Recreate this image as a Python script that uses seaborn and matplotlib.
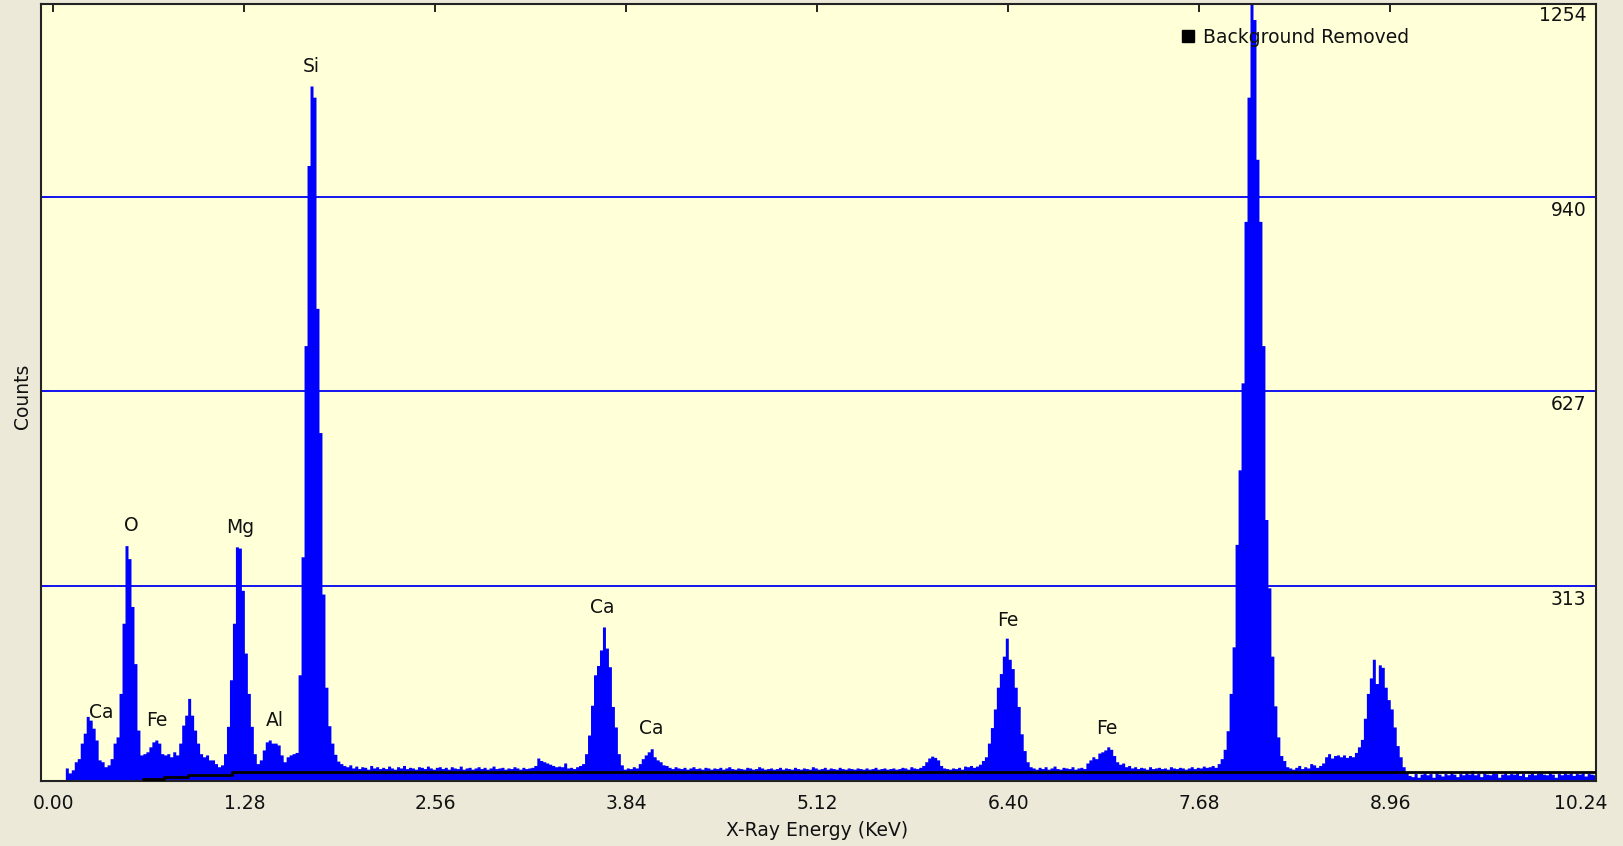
import numpy as np
import pandas as pd
import matplotlib
matplotlib.use("Agg")
import matplotlib.pyplot as plt
from matplotlib.lines import Line2D
import seaborn as sns

# spectrum channels are 0.02 keV wide, starting at 0 keV
CHANNEL_KEV = 0.02

# counts per channel, 0.00 - 2.00 keV
counts_0_2 = [
    0, 0, 0, 0, 20, 12, 17, 30, 35, 60,
    76, 103, 97, 84, 65, 33, 30, 22, 25, 35,
    60, 70, 140, 253, 378, 357, 280, 188, 81, 41,
    43, 46, 54, 62, 65, 60, 43, 41, 43, 38,
    46, 41, 60, 89, 105, 132, 105, 81, 60, 43,
    38, 41, 33, 33, 27, 22, 25, 43, 87, 162,
    253, 376, 374, 306, 205, 140, 87, 43, 27, 33,
    49, 62, 65, 60, 60, 57, 41, 30, 38, 41,
    43, 45, 170, 360, 700, 990, 1118, 1100, 760, 560,
    300, 150, 88, 60, 42, 31, 27, 24, 22, 25,
]

# counts per channel, 2.00 - 6.00 keV
counts_2_6 = [
    20, 23, 19, 22, 21, 18, 24, 20, 22, 19,
    21, 19, 23, 20, 18, 22, 20, 24, 19, 21,
    20, 18, 22, 21, 19, 23, 20, 18, 21, 22,
    19, 21, 18, 22, 20, 19, 23, 18, 20, 21,
    18, 20, 22, 19, 21, 18, 20, 23, 19, 20,
    21, 18, 20, 19, 22, 20, 18, 21, 19, 20,
    21, 24, 36, 32, 30, 28, 26, 24, 22, 23,
    22, 28, 20, 21, 19, 22, 24, 27, 43, 73,
    121, 170, 185, 210, 247, 213, 183, 119, 86, 43,
    25, 18, 20, 19, 22, 20, 27, 35, 41, 46,
    51, 38, 33, 30, 25, 24, 21, 19, 22, 20,
    19, 21, 18, 20, 22, 19, 20, 18, 21, 20,
    18, 20, 19, 21, 18, 20, 22, 19, 18, 20,
    19, 18, 21, 20, 18, 19, 22, 20, 18, 19,
    20, 18, 19, 21, 18, 20, 19, 18, 21, 19,
    18, 20, 19, 18, 22, 20, 18, 19, 21, 18,
    20, 19, 18, 21, 19, 18, 20, 19, 18, 20,
    19, 18, 20, 18, 19, 21, 18, 19, 20, 18,
    19, 20, 18, 19, 21, 20, 18, 22, 20, 19,
    21, 24, 30, 36, 39, 37, 33, 24, 20, 19,
]

# counts per channel, 6.00 - 10.34 keV
counts_6_10 = [
    18, 20, 19, 21, 18, 23, 22, 24, 21, 23,
    26, 32, 38, 60, 85, 115, 150, 172, 200, 229,
    195, 180, 150, 119, 75, 48, 30, 22, 20, 18,
    21, 19, 22, 18, 20, 23, 19, 18, 21, 20,
    19, 22, 18, 20, 21, 19, 28, 33, 38, 35,
    44, 46, 49, 54, 50, 40, 30, 26, 28, 22,
    24, 20, 22, 19, 21, 20, 18, 22, 19, 20,
    21, 19, 20, 18, 22, 20, 19, 21, 20, 18,
    20, 22, 19, 21, 20, 23, 21, 22, 24, 21,
    27, 35, 50, 80, 140, 215, 380, 500, 640, 900,
    1100, 1254, 1225, 1000, 900, 700, 420, 310, 200, 120,
    70, 40, 32, 22, 20, 18, 21, 24, 19, 22,
    20, 27, 25, 21, 24, 28, 38, 43, 36, 40,
    41, 38, 41, 37, 40, 38, 45, 54, 66, 100,
    140, 165, 195, 156, 186, 182, 150, 130, 115, 86,
    56, 38, 22, 14, 8, 6, 11, 5, 10, 12,
    9, 11, 5, 12, 10, 7, 11, 9, 12, 10,
    6, 11, 9, 12, 10, 16, 9, 11, 6, 12,
    10, 9, 12, 11, 5, 10, 12, 9, 11, 10,
    12, 8, 11, 6, 10, 12, 9, 11, 12, 10,
    9, 12, 10, 5, 11, 9, 12, 10, 12, 8,
    11, 10, 12, 7, 11, 10, 9,
]

# fitted background (black line)
background_kev = [0.60, 0.74, 0.90, 1.20, 10.34]
background_counts = [2, 5, 9, 13, 13]

# element labels
peak_names = ["Ca", "O", "Fe", "Mg", "Al", "Si", "Ca", "Ca", "Fe", "Fe"]
peak_kev = [0.324, 0.521, 0.693, 1.251, 1.486, 1.725, 3.68, 4.006, 6.397, 7.06]
peak_label_counts = [110, 411, 97, 407, 97, 1149, 278, 84, 258, 84]

energy_ticks = [0.00, 1.28, 2.56, 3.84, 5.12, 6.40, 7.68, 8.96, 10.24]
count_ticks = [313, 627, 940, 1254]

FS = 13.5
TEXT = "#111111"

counts = counts_0_2 + counts_2_6 + counts_6_10
n_chan = len(counts)
spectrum = pd.DataFrame({
    "kev": (np.arange(n_chan) + 0.5) * CHANNEL_KEV,
    "counts": counts,
})

sns.set_style("white")
plt.rcParams["font.family"] = ["DejaVu Sans"]

fig = plt.figure(figsize=(16.23, 8.46), dpi=100, facecolor="#ECE9D8")
ax = fig.add_axes([0.02508, 0.07683, 0.95810, 0.91844])
ax.set_facecolor("#FFFFD8")

# horizontal guide lines
for v in count_ticks[:-1]:
    ax.axhline(v, color="#1414F0", lw=1.4, zorder=1)

sns.histplot(data=spectrum, x="kev", weights="counts", binwidth=CHANNEL_KEV,
             binrange=(0, n_chan * CHANNEL_KEV), element="step", fill=True,
             color="#0000FF", alpha=1, linewidth=0, ax=ax, zorder=2)

ax.plot(background_kev, background_counts, drawstyle="steps-post",
        color="black", lw=2, zorder=3)

ax.set_xlim(-0.085, 10.337)
ax.set_ylim(-1, 1250)
ax.set_xlabel("")
ax.set_ylabel("")

ax.set_xticks(energy_ticks)
ax.set_xticklabels([f"{t:.2f}" for t in energy_ticks])
ax.tick_params(axis="x", direction="out", length=6.5, width=1.4, color="#222222",
               pad=3, labelsize=FS, labelcolor=TEXT)
ax.set_yticks(count_ticks[:-1])
ax.tick_params(axis="y", direction="in", length=6, width=1.4, color="#333333",
               left=True, right=True, labelleft=False, labelright=False)

# inward ticks along the top (none under the 1254 label)
top = ax.secondary_xaxis("top")
top.set_xticks(energy_ticks[:-1])
top.tick_params(direction="in", length=6, width=1.4, color="#222222", labeltop=False)
top.spines["top"].set_visible(False)

for s in ax.spines.values():
    s.set_visible(True)
    s.set_color("#222222")
    s.set_linewidth(1.5)

# count values written inside the right edge
for v in count_ticks:
    ax.annotate(str(v), xy=(1, v), xycoords=ax.get_yaxis_transform(),
                xytext=(-6.5, -3), textcoords="offset points",
                ha="right", va="top", fontsize=FS, color=TEXT)

for name, e, c in zip(peak_names, peak_kev, peak_label_counts):
    ax.text(e, c, name, ha="center", va="center", fontsize=FS, color=TEXT, zorder=5)

handle = Line2D([], [], marker="s", color="black", linestyle="None", markersize=8.5)
ax.legend([handle], ["Background Removed"], loc="center left",
          bbox_to_anchor=(0.7332, 0.9569), frameon=False, borderpad=0,
          borderaxespad=0, handlelength=0.8, handletextpad=0.4,
          fontsize=FS, labelcolor=TEXT)

fig.text(817 / 1623, 1 - 830 / 846, "X-Ray Energy (KeV)", ha="center", va="center",
         fontsize=FS, color=TEXT)
fig.text(22.8 / 1623, 1 - 396 / 846, "Counts", ha="center", va="center",
         rotation=90, fontsize=FS, color=TEXT)

fig.savefig("out.png", dpi=100, facecolor=fig.get_facecolor())
